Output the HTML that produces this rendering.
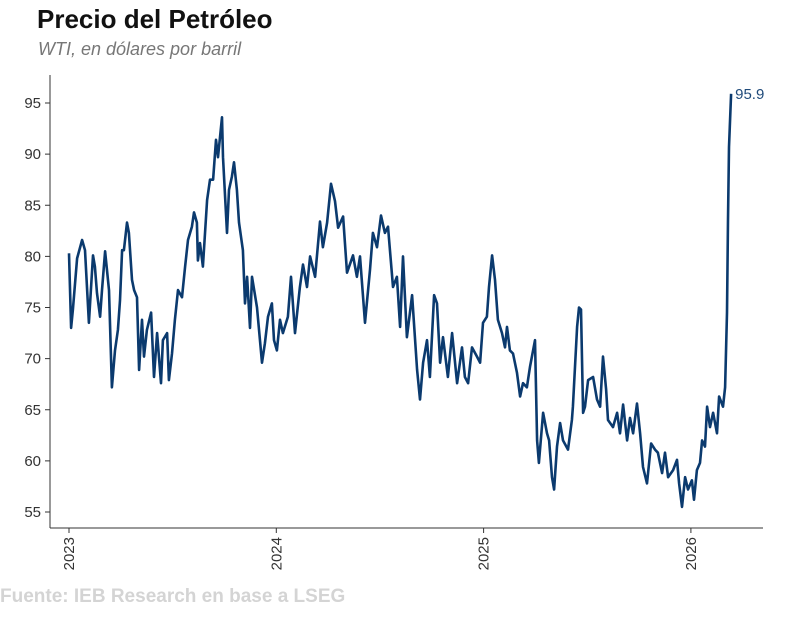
<!DOCTYPE html>
<html><head><meta charset="utf-8"><style>
body{margin:0;background:#fff;width:800px;height:630px;overflow:hidden;font-family:"Liberation Sans",sans-serif}
</style></head><body>
<svg width="800" height="630" xmlns="http://www.w3.org/2000/svg">
<text x="37" y="28" font-size="26" font-weight="bold" fill="#111">Precio del Petróleo</text>
<text x="38" y="55" font-size="18" font-style="italic" fill="#777">WTI, en dólares por barril</text>
<line x1="50" y1="75" x2="50" y2="528" stroke="#333" stroke-width="1"/>
<line x1="50" y1="528" x2="763" y2="528" stroke="#333" stroke-width="1"/>
<g id="yt"></g><g id="xt"></g>
<path id="line" fill="none" stroke="#0b3a6e" stroke-width="2.6" stroke-linejoin="round"/>
<text id="lastlbl" font-size="15" fill="#1f4a7a"></text>
<text x="0" y="602" font-size="19" font-weight="bold" fill="#d4d4d4">Fuente: IEB Research en base a LSEG</text>
</svg>
<script>
const yTicks=[55,60,65,70,75,80,85,90,95];
const xTicks=[2023,2024,2025,2026];
const dates=[2023,2023.010,2023.019,2023.039,2023.063,2023.077,2023.096,2023.116,2023.125,2023.135,2023.150,2023.159,2023.174,2023.193,2023.207,2023.222,2023.236,2023.246,2023.256,2023.265,2023.280,2023.289,2023.304,2023.314,2023.328,2023.338,2023.352,2023.362,2023.376,2023.396,2023.410,2023.425,2023.444,2023.453,2023.473,2023.482,2023.497,2023.511,2023.526,2023.545,2023.560,2023.574,2023.593,2023.603,2023.617,2023.622,2023.632,2023.646,2023.666,2023.680,2023.695,2023.709,2023.719,2023.738,2023.743,2023.762,2023.772,2023.786,2023.796,2023.810,2023.820,2023.839,2023.849,2023.859,2023.873,2023.883,2023.907,2023.931,2023.945,2023.960,2023.979,2023.989,2024.003,2024.018,2024.032,2024.056,2024.071,2024.090,2024.114,2024.129,2024.148,2024.163,2024.187,2024.211,2024.225,2024.245,2024.264,2024.283,2024.298,2024.322,2024.341,2024.370,2024.389,2024.404,2024.428,2024.452,2024.466,2024.486,2024.505,2024.524,2024.539,2024.563,2024.582,2024.597,2024.611,2024.630,2024.655,2024.679,2024.693,2024.708,2024.727,2024.741,2024.761,2024.775,2024.790,2024.804,2024.828,2024.848,2024.872,2024.896,2024.910,2024.925,2024.944,2024.968,2024.983,2024.997,2025.016,2025.026,2025.041,2025.055,2025.069,2025.089,2025.103,2025.113,2025.127,2025.142,2025.161,2025.176,2025.190,2025.209,2025.224,2025.248,2025.258,2025.267,2025.287,2025.306,2025.316,2025.330,2025.340,2025.354,2025.369,2025.383,2025.407,2025.426,2025.431,2025.451,2025.460,2025.470,2025.480,2025.489,2025.504,2025.528,2025.547,2025.562,2025.576,2025.591,2025.600,2025.624,2025.644,2025.658,2025.673,2025.692,2025.706,2025.721,2025.740,2025.755,2025.769,2025.788,2025.808,2025.827,2025.841,2025.861,2025.875,2025.890,2025.914,2025.933,2025.943,2025.957,2025.972,2025.986,2026.005,2026.015,2026.029,2026.044,2026.054,2026.068,2026.078,2026.092,2026.107,2026.126,2026.136,2026.155,2026.165,2026.174,2026.179,2026.184,2026.194];
const prices=[80.3,73.0,74.8,79.8,81.6,80.6,73.5,80.1,79,76.4,74.1,76.7,80.5,76.7,67.2,70.8,72.8,75.7,80.6,80.6,83.3,82.3,77.7,76.7,76,68.9,73.8,70.2,72.8,74.5,68.2,72.5,67.6,71.8,72.5,67.9,70.5,73.8,76.7,76,79,81.6,82.9,84.3,83.3,79.6,81.3,79,85.5,87.5,87.5,91.4,89.7,93.6,89.7,82.3,86.5,87.8,89.2,86.5,83.3,80.6,75.4,78,73,78,75,69.6,71.5,74.1,75.4,71.8,70.8,73.8,72.5,74.1,78,72.5,77,79.2,77,80,78,83.4,80.9,83.3,87.1,85.4,82.8,83.9,78.4,80.1,78,80,73.5,78.7,82.3,80.9,84,82.3,82.9,77,78,73.1,80,72.1,76.2,68.9,66,69.6,71.8,68.2,76.2,75.4,69.6,72.1,68.2,72.5,67.6,71.1,68.2,67.6,71.1,70.2,69.6,73.5,74.1,77,80.1,77.7,73.8,72.5,71.1,73.1,70.8,70.5,68.6,66.3,67.6,67.2,69.2,71.8,62,59.8,64.7,62.7,62,58.4,57.2,61.4,63.7,62,61.1,64,65.3,73.1,75,74.8,64.7,65.3,67.9,68.2,66,65.3,70.2,67,64,63.3,64.7,62.7,65.5,62,64.2,62.7,65.6,62.7,59.4,57.8,61.7,61.1,60.8,58.8,60.8,58.4,59.1,60.1,57.8,55.5,58.4,57.2,58.1,56.2,59.1,59.8,62,61.4,65.3,63.3,64.7,62.7,66.3,65.3,67.2,74.5,83.6,90.7,95.9];
const NS='http://www.w3.org/2000/svg';
function xs(t){return 69+(t-2023)*207.3;}
function ys(v){return 103+(95-v)*10.225;}
const yt=document.getElementById('yt'),xt=document.getElementById('xt');
yTicks.forEach(v=>{
 const l=document.createElementNS(NS,'line');
 l.setAttribute('x1',45);l.setAttribute('x2',50);l.setAttribute('y1',ys(v));l.setAttribute('y2',ys(v));l.setAttribute('stroke','#333');
 
 
 yt.appendChild(l);
 const t=document.createElementNS(NS,'text');
 t.setAttribute('x',41);t.setAttribute('y',ys(v)+5);t.setAttribute('text-anchor','end');t.setAttribute('font-size','15');t.setAttribute('fill','#333');
 t.textContent=v;
 
 
 yt.appendChild(t);
});
xTicks.forEach(y=>{
 const x=xs(y);
 const l=document.createElementNS(NS,'line');
 l.setAttribute('x1',x);l.setAttribute('x2',x);l.setAttribute('y1',528);l.setAttribute('y2',533);l.setAttribute('stroke','#333');
 
 
 xt.appendChild(l);
 const t=document.createElementNS(NS,'text');
 t.setAttribute('transform','translate('+(x+5)+',537) rotate(-90)');t.setAttribute('text-anchor','end');t.setAttribute('font-size','15');t.setAttribute('fill','#333');
 t.textContent=y;
 
 
 xt.appendChild(t);
});
let d='';
dates.forEach((t,i)=>{d+=(i?'L':'M')+xs(t).toFixed(1)+','+ys(prices[i]).toFixed(1);});
document.getElementById('line').setAttribute('d',d);
const n=prices.length-1,lb=document.getElementById('lastlbl');
lb.setAttribute('x',xs(dates[n])+4);lb.setAttribute('y',ys(prices[n])+5);
lb.textContent=prices[n].toFixed(1);
</script>
</body></html>
